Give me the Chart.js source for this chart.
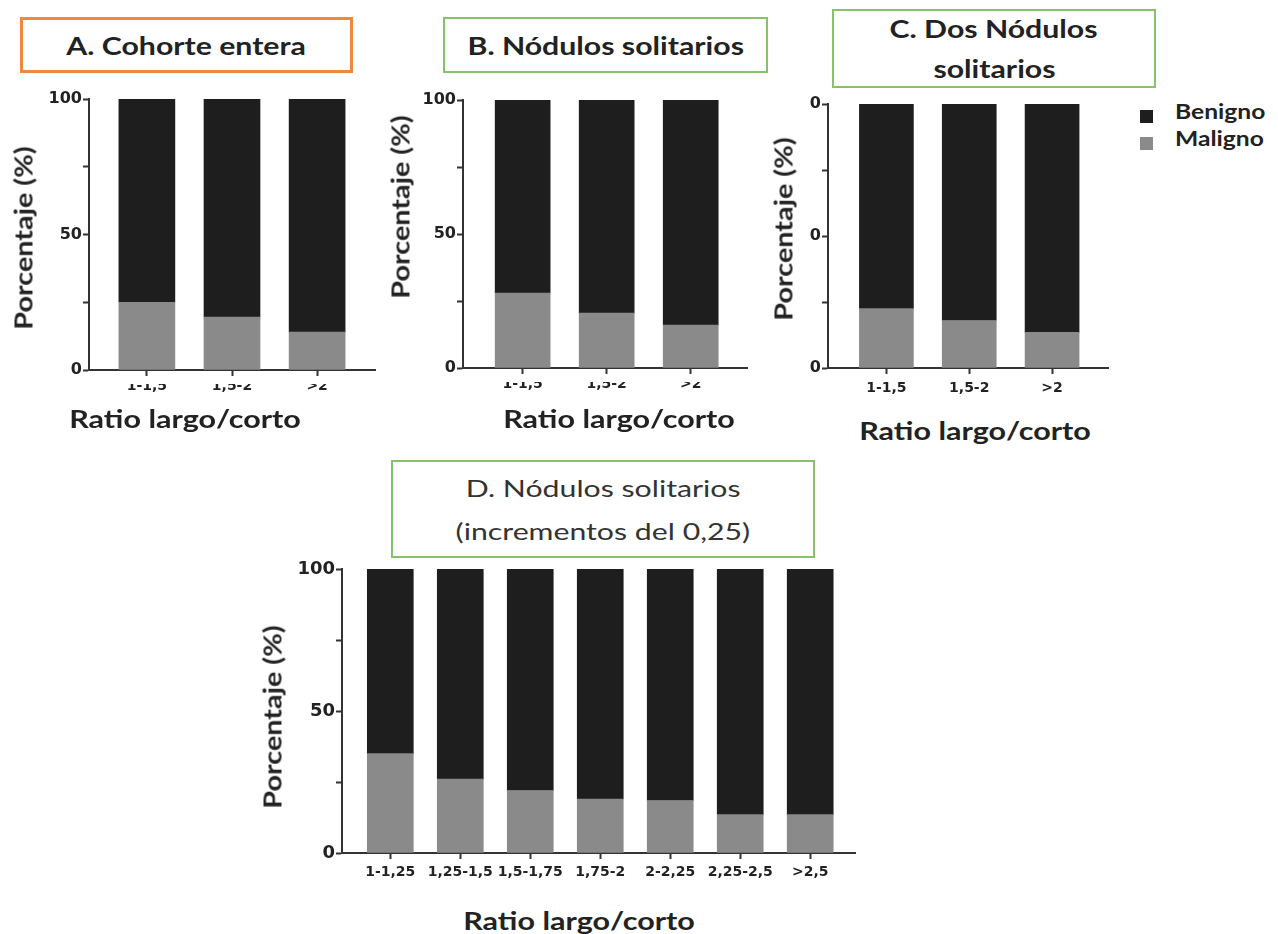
<!DOCTYPE html>
<html lang="es">
<head>
<meta charset="utf-8">
<title>Ratio largo/corto</title>
<script src="https://cdn.jsdelivr.net/npm/chart.js@4.4.1/dist/chart.umd.min.js"></script>
<style>
  body { margin: 0; background: #fff; width: 1278px; height: 934px; position: relative; overflow: hidden;
         font-family: Lato, "Open Sans", sans-serif; color: #222; }
  .box { position: absolute; box-sizing: border-box; display: flex; flex-direction: column;
         align-items: center; justify-content: center; text-align: center; font-size: 24px; font-weight: bold; }
  .box div { transform: scaleX(1.26); white-space: nowrap; }
  .lbl { position: absolute; white-space: nowrap; font-weight: bold; font-size: 24px;
         transform: translate(-50%, -50%) scaleX(1.27); }
  .rot { transform: translate(-50%, -50%) rotate(-90deg) scaleX(1.2); }
  .leg { position: absolute; font-weight: bold; font-size: 20px; white-space: nowrap;
         transform: scaleX(1.23); transform-origin: left center; }
  .sq { position: absolute; width: 13px; height: 13px; }
  canvas { position: absolute; }
  .tapa { position: absolute; background: #fff; }
</style>
</head>
<body>

<!-- titulos de panel -->
<div class="box" style="left:20px;top:17px;width:333px;height:56px;border:3px solid #F08A3A;"><div>A. Cohorte entera</div></div>
<div class="box" style="left:443px;top:17px;width:325px;height:56px;border:2px solid #86C267;"><div>B. Nódulos solitarios</div></div>
<div class="box" style="left:832px;top:9px;width:324px;height:79px;border:2px solid #86C267;line-height:40px;"><div>C. Dos Nódulos</div><div>solitarios</div></div>
<div class="box" style="left:391px;top:460px;width:424px;height:98px;border:2px solid #86C267;font-weight:normal;color:#333;line-height:43px;"><div>D. Nódulos solitarios</div><div>(incrementos del 0,25)</div></div>

<canvas id="chartA"></canvas>
<canvas id="chartB"></canvas>
<canvas id="chartC"></canvas>
<canvas id="chartD"></canvas>

<!-- etiquetas del eje x recortadas en A y B, como en la figura original -->
<div class="tapa" style="left:100px;top:377px;width:270px;height:7px;"></div>
<div class="tapa" style="left:475px;top:375px;width:270px;height:7px;"></div>

<!-- titulos de ejes -->
<div class="lbl rot" style="left:23px;top:238px;">Porcentaje (%)</div>
<div class="lbl" style="left:185px;top:418px;">Ratio largo/corto</div>
<div class="lbl rot" style="left:400px;top:207px;">Porcentaje (%)</div>
<div class="lbl" style="left:619px;top:418px;">Ratio largo/corto</div>
<div class="lbl rot" style="left:783px;top:229px;">Porcentaje (%)</div>
<div class="lbl" style="left:975px;top:430px;">Ratio largo/corto</div>
<div class="lbl rot" style="left:272px;top:717px;">Porcentaje (%)</div>
<div class="lbl" style="left:579px;top:920px;">Ratio largo/corto</div>

<!-- leyenda -->
<div class="sq" style="left:1140px;top:110px;background:#1e1e1e;"></div>
<div class="leg" style="left:1175px;top:99px;">Benigno</div>
<div class="sq" style="left:1140px;top:137px;background:#8a8a8a;"></div>
<div class="leg" style="left:1175px;top:126px;">Maligno</div>

<script>
// categorias
const ratiosABC = ['1-1,5', '1,5-2', '>2'];
const ratiosD = ['1-1,25', '1,25-1,5', '1,5-1,75', '1,75-2', '2-2,25', '2,25-2,5', '>2,5'];

// porcentajes
const malignoA = [25, 19.5, 14];
const benignoA = [75, 80.5, 86];
const malignoB = [28, 20.5, 16];
const benignoB = [72, 79.5, 84];
const malignoC = [22.5, 18, 13.5];
const benignoC = [77.5, 82, 86.5];
const malignoD = [35, 26, 22, 19, 18.5, 13.5, 13.5];
const benignoD = [65, 74, 78, 81, 81.5, 86.5, 86.5];

// ticks del eje y
const ticksY = [0, 25, 50, 75, 100];
const etiquetasY = ['0', '', '50', '', '100'];
const etiquetasYC = ['0', '', '0', '', '0'];   // asi aparecen en el panel C

const colorBenigno = '#1e1e1e';
const colorMaligno = '#8a8a8a';

const PAD_T = 14, Y_W = 60, X_H = 40, PAD_R = 4;
const fuenteEjes = 'DejaVu Sans, Verdana, sans-serif';

function panel(id, area, cats, maligno, benigno, labelsY, opts) {
  const canvas = document.getElementById(id);
  const w = Y_W + (area.r - area.l) + PAD_R;
  const h = PAD_T + (area.b - area.t) + X_H;
  canvas.width = w; canvas.height = h;
  canvas.style.left = (area.l - Y_W) + 'px';
  canvas.style.top = (area.t - PAD_T) + 'px';
  canvas.style.width = w + 'px'; canvas.style.height = h + 'px';

  const toXY = arr => arr.map((v, i) => ({ x: i, y: v }));

  new Chart(canvas, {
    type: 'bar',
    data: {
      datasets: [
        { label: 'Maligno', data: toXY(maligno), backgroundColor: colorMaligno, barThickness: opts.barW, borderWidth: 0 },
        { label: 'Benigno', data: toXY(benigno), backgroundColor: colorBenigno, barThickness: opts.barW, borderWidth: 0 }
      ]
    },
    options: {
      responsive: false,
      animation: false,
      layout: { padding: { top: PAD_T, right: PAD_R, left: 0, bottom: 0 } },
      plugins: { legend: { display: false }, tooltip: { enabled: false } },
      scales: {
        x: {
          type: 'linear', stacked: true, offset: false, min: opts.xmin, max: opts.xmax,
          afterBuildTicks: axis => { axis.ticks = cats.map((c, i) => ({ value: i })); },
          afterFit: s => { s.height = X_H; },
          border: { color: '#333', width: 2 },
          grid: { offset: false, drawOnChartArea: false, tickLength: 6, tickColor: '#333', tickWidth: 2 },
          ticks: {
            autoSkip: false, maxRotation: 0, padding: opts.xPad, color: '#222',
            font: { family: fuenteEjes, weight: 'bold', size: opts.xFont },
            callback: (v, i) => cats[i]
          }
        },
        y: {
          stacked: true, min: 0, max: 100,
          afterBuildTicks: axis => { axis.ticks = ticksY.map(v => ({ value: v })); },
          afterFit: s => { s.width = Y_W; },
          border: { color: '#333', width: 2 },
          grid: { drawOnChartArea: false, tickLength: 6, tickColor: '#333', tickWidth: 2 },
          ticks: {
            padding: 1, color: '#222',
            font: { family: fuenteEjes, weight: 'bold', size: opts.yFont },
            callback: (v, i) => labelsY[i]
          }
        }
      }
    }
  });
}

panel('chartA', { l: 89, r: 375, t: 99, b: 370 }, ratiosABC, malignoA, benignoA, etiquetasY,
  { barW: 56, xmin: -0.68, xmax: 2.68, xFont: 14, yFont: 16, xPad: 2 });
panel('chartB', { l: 463, r: 747, t: 100, b: 368 }, ratiosABC, malignoB, benignoB, etiquetasY,
  { barW: 55, xmin: -0.71, xmax: 2.67, xFont: 14, yFont: 16, xPad: 2 });
panel('chartC', { l: 828, r: 1108, t: 104, b: 368 }, ratiosABC, malignoC, benignoC, etiquetasYC,
  { barW: 54, xmin: -0.705, xmax: 2.675, xFont: 14, yFont: 16, xPad: 6 });
panel('chartD', { l: 342, r: 855, t: 569, b: 853 }, ratiosD, malignoD, benignoD, etiquetasY,
  { barW: 46, xmin: -0.69, xmax: 6.64, xFont: 14, yFont: 18, xPad: 5 });
</script>
</body>
</html>
